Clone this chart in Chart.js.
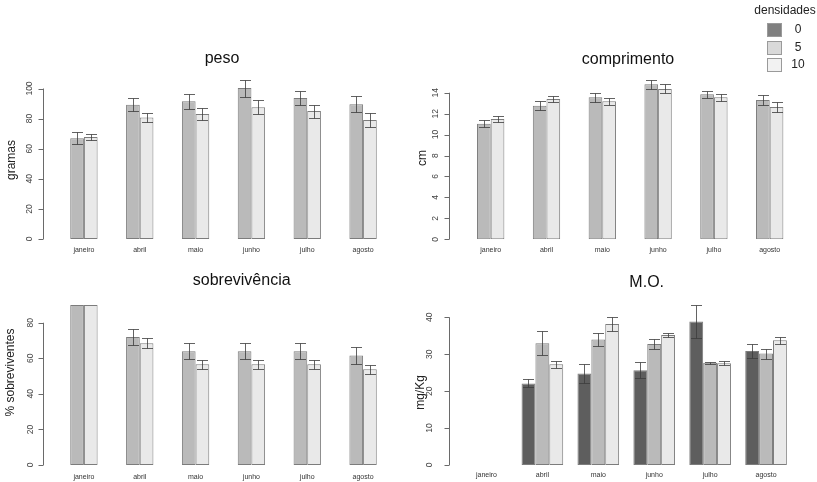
<!DOCTYPE html>
<html>
<head>
<meta charset="utf-8">
<script src="https://cdn.jsdelivr.net/npm/chart.js@4.4.0/dist/chart.umd.min.js"></script>
<style>
    body { margin: 0; background: #fff; font-family: 'Liberation Sans', Arial, sans-serif; }
    #page { position: relative; width: 817px; height: 482px; overflow: hidden; background: #fff; }
    canvas { position: absolute; }
    #legend { position: absolute; left: 750px; top: 0; width: 67px; height: 80px; color: #222; }
    #legend .ttl { position: absolute; left: 0; top: 3px; width: 70px; text-align: center; font-size: 12px; }
    #legend .box { position: absolute; left: 17px; width: 13px; height: 12px; border: 1px solid #9a9a9a; }
    #legend .lab { position: absolute; left: 38px; width: 20px; text-align: center; font-size: 12px; }
</style>
</head>
<body>
<div id="page">
    <canvas id="peso" width="400" height="262" style="left:0;top:0"></canvas>
    <canvas id="comprimento" width="417" height="262" style="left:400px;top:0"></canvas>
    <canvas id="sobrevivencia" width="400" height="220" style="left:0;top:262px"></canvas>
    <canvas id="mo" width="417" height="220" style="left:400px;top:262px"></canvas>
    <div id="legend"></div>
</div>
<script>
// Months on the x axis (same for all panels)
const months = ['janeiro', 'abril', 'maio', 'junho', 'julho', 'agosto'];

// Densities shown in the legend
const densidades = ['0', '5', '10'];

// peso (gramas)
const peso5 = [66.9, 89.2, 91.5, 100.3, 93.7, 89.5];
const peso5Err = [4.0, 4.2, 4.85, 5.65, 4.65, 5.3];
const peso10 = [67.8, 80.8, 83.1, 87.5, 85.0, 79.1];
const peso10Err = [2.1, 2.9, 4.2, 4.55, 4.3, 4.75];
const pesoTicks = [0, 20, 40, 60, 80, 100];

// comprimento (cm)
const comp5 = [11.04, 12.76, 13.56, 14.8, 13.85, 13.3];
const comp5Err = [0.33, 0.43, 0.42, 0.46, 0.32, 0.48];
const comp10 = [11.49, 13.4, 13.18, 14.36, 13.56, 12.64];
const comp10Err = [0.26, 0.26, 0.32, 0.43, 0.32, 0.45];
const compTicks = [0, 2, 4, 6, 8, 10, 12, 14];

// sobrevivencia (%)
const sob5 = [90, 72, 64, 64, 64, 61.6];
const sob5Err = [0, 4.5, 4.4, 4.4, 4.4, 4.7];
const sob10 = [90, 68.4, 56.6, 56.6, 56.6, 53.8];
const sob10Err = [0, 2.8, 2.5, 2.5, 2.5, 2.7];
const sobTicks = [0, 20, 40, 60, 80];

// M.O. (mg/Kg) - no janeiro measurement
const mo0 = [null, 22.1, 24.8, 25.7, 38.9, 30.9];
const mo0Err = [null, 1.1, 2.7, 2.15, 4.5, 1.95];
const mo5 = [null, 33.0, 34.0, 32.8, 27.7, 30.2];
const mo5Err = [null, 3.3, 1.85, 1.45, 0.3, 1.35];
const mo10 = [null, 27.3, 38.2, 35.2, 27.6, 33.8];
const mo10Err = [null, 0.95, 2.0, 0.65, 0.6, 1.0];
const moTicks = [0, 10, 20, 30, 40];

// Grey fills
const colors = {
    d0: '#5e5e5e',
    d5: '#bababa',
    d10: '#e9e9e9'
};
const legendColors = ['#808080', '#d9d9d9', '#f2f2f2'];

const FONT = "'Liberation Sans', Arial, sans-serif";

// Draws R-like axis, titles and error bars
const rStyle = {
    id: 'rStyle',
    afterDatasetsDraw(chart, args, opts) {
        const ctx = chart.ctx;
        const y = chart.scales.y;
        ctx.save();
        ctx.strokeStyle = 'rgba(60,60,60,0.8)';
        ctx.lineWidth = 1;
        chart.data.datasets.forEach((ds, i) => {
            const meta = chart.getDatasetMeta(i);
            meta.data.forEach((bar, j) => {
                const v = ds.data[j];
                const e = ds.errors[j];
                if (v == null || !e) return;
                const top = Math.round(y.getPixelForValue(v + e)) + 0.5;
                const bot = Math.round(y.getPixelForValue(v - e)) + 0.5;
                const x = Math.round(bar.x) + 0.5;
                const w = 5.5;
                ctx.beginPath();
                ctx.moveTo(x, top); ctx.lineTo(x, bot);
                ctx.moveTo(x - w, top); ctx.lineTo(x + w, top);
                ctx.moveTo(x - w, bot); ctx.lineTo(x + w, bot);
                ctx.stroke();
            });
        });
        ctx.restore();
    },
    afterDraw(chart, args, opts) {
        const ctx = chart.ctx;
        const y = chart.scales.y;
        const ticks = opts.ticks;
        const ax = Math.round(opts.axisX) + 0.5;
        ctx.save();
        // axis line and tick marks
        ctx.strokeStyle = '#6a6a6a';
        ctx.lineWidth = 1;
        ctx.beginPath();
        ctx.moveTo(ax, y.getPixelForValue(ticks[0]));
        ctx.lineTo(ax, y.getPixelForValue(ticks[ticks.length - 1]));
        ticks.forEach(t => {
            const py = Math.round(y.getPixelForValue(t)) + 0.5;
            ctx.moveTo(ax - 5, py);
            ctx.lineTo(ax, py);
        });
        ctx.stroke();
        // tick labels, rotated like R
        ctx.fillStyle = '#444';
        ctx.font = '8.5px ' + FONT;
        ctx.textAlign = 'center';
        ctx.textBaseline = 'middle';
        ticks.forEach(t => {
            ctx.save();
            ctx.translate(opts.labelX, y.getPixelForValue(t));
            ctx.rotate(-Math.PI / 2);
            ctx.fillText(String(t), 0, 0);
            ctx.restore();
        });
        // y axis title
        ctx.fillStyle = '#222';
        ctx.font = '12px ' + FONT;
        ctx.save();
        ctx.translate(opts.yTitleX, opts.yTitleY);
        ctx.rotate(-Math.PI / 2);
        ctx.fillText(opts.yTitle, 0, 0);
        ctx.restore();
        // panel title
        ctx.fillStyle = '#111';
        ctx.font = '16px ' + FONT;
        ctx.textBaseline = 'alphabetic';
        ctx.fillText(opts.title, opts.titleX, opts.titleY);
        ctx.restore();
    }
};

function makeDataset(label, data, errors, color) {
    return {
        label: label,
        data: data,
        errors: errors,
        backgroundColor: color,
        borderColor: '#7c7c7c',
        borderWidth: 1,
        borderSkipped: false
    };
}

function makePanel(id, cfg) {
    return new Chart(document.getElementById(id), {
        type: 'bar',
        data: {
            labels: months,
            datasets: cfg.datasets
        },
        options: {
            responsive: false,
            animation: false,
            devicePixelRatio: 1,
            layout: { padding: cfg.padding },
            datasets: {
                bar: { barPercentage: 1, categoryPercentage: cfg.catPct }
            },
            plugins: {
                legend: { display: false },
                tooltip: { enabled: false },
                rStyle: cfg.style
            },
            scales: {
                x: {
                    grid: { display: false, drawTicks: false },
                    border: { display: false },
                    ticks: {
                        color: '#333',
                        font: { family: FONT, size: 7 },
                        padding: cfg.labelPad,
                        autoSkip: false,
                        maxRotation: 0
                    },
                    afterFit: s => { s.height = 16; }
                },
                y: {
                    display: false,
                    min: 0,
                    max: cfg.yMax
                }
            }
        },
        plugins: [rStyle]
    });
}

makePanel('peso', {
    datasets: [
        makeDataset('5', peso5, peso5Err, colors.d5),
        makeDataset('10', peso10, peso10Err, colors.d10)
    ],
    catPct: 0.49,
    yMax: 110,
    padding: { left: 56, right: 9, top: 73.45, bottom: 7 },
    labelPad: 7.3,
    style: { ticks: pesoTicks, axisX: 42.7, labelX: 30, title: 'peso', titleX: 222, titleY: 63,
             yTitle: 'gramas', yTitleX: 11.5, yTitleY: 160 }
});

makePanel('comprimento', {
    datasets: [
        makeDataset('5', comp5, comp5Err, colors.d5),
        makeDataset('10', comp10, comp10Err, colors.d10)
    ],
    catPct: 0.49,
    yMax: 15.5,
    padding: { left: 62.8, right: 19.4, top: 77, bottom: 6.7 },
    labelPad: 6.8,
    style: { ticks: compTicks, axisX: 49.3, labelX: 35.3, title: 'comprimento', titleX: 228, titleY: 64,
             yTitle: 'cm', yTitleX: 23, yTitleY: 158 }
});

makePanel('sobrevivencia', {
    datasets: [
        makeDataset('5', sob5, sob5Err, colors.d5),
        makeDataset('10', sob10, sob10Err, colors.d10)
    ],
    catPct: 0.49,
    yMax: 92,
    padding: { left: 56, right: 9, top: 39.4, bottom: 1 },
    labelPad: 8.3,
    style: { ticks: sobTicks, axisX: 42.7, labelX: 31, title: 'sobrevivência', titleX: 241.7, titleY: 23.3,
             yTitle: '% sobreviventes', yTitleX: 10.5, yTitleY: 110.5 }
});

makePanel('mo', {
    datasets: [
        makeDataset('0', mo0, mo0Err, colors.d0),
        makeDataset('5', mo5, mo5Err, colors.d5),
        makeDataset('10', mo10, mo10Err, colors.d10)
    ],
    catPct: 0.745,
    yMax: 44,
    padding: { left: 58.5, right: 23, top: 40.6, bottom: 1 },
    labelPad: 6.3,
    style: { ticks: moTicks, axisX: 49.3, labelX: 30, title: 'M.O.', titleX: 246.7, titleY: 25.3,
             yTitle: 'mg/Kg', yTitleX: 20.7, yTitleY: 130.5 }
});

// Legend box (top right)
function buildLegend() {
    const el = document.getElementById('legend');
    let html = '<div class="ttl">densidades</div>';
    const rowTops = [22.7, 40.5, 58.3];
    densidades.forEach((d, i) => {
        const top = rowTops[i];
        html += `<div class="box" style="top:${top}px;background:${legendColors[i]}"></div>`;
        html += `<div class="lab" style="top:${top - 1}px">${d}</div>`;
    });
    el.innerHTML = html;
}
buildLegend();
</script>
</body>
</html>
